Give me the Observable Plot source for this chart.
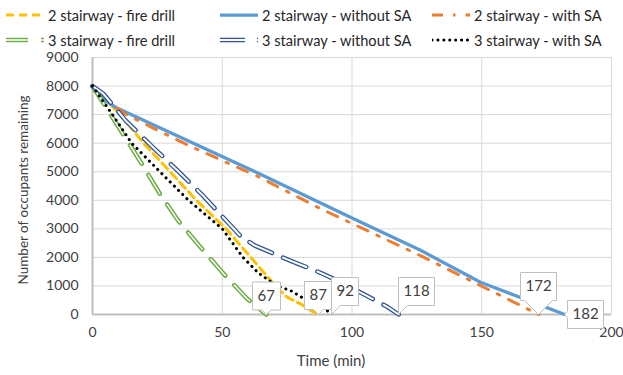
<!DOCTYPE html>
<html><head><meta charset="utf-8">
<script src="https://cdn.jsdelivr.net/npm/d3@7"></script>
<script src="https://cdn.jsdelivr.net/npm/@observablehq/plot@0.6"></script>
<style>
body{margin:0;background:#fff;font-family:Lato,sans-serif;}
#wrap{position:relative;width:623px;height:375px;overflow:hidden;}
#legend{position:relative;height:44px;width:623px;font-size:14.6px;color:#262626;}
.item{position:absolute;display:flex;align-items:center;height:18px;white-space:nowrap;}
.item svg{margin-right:4px;}
</style></head><body>
<div id="wrap"><div id="legend"></div><div id="chart"></div></div>
<script>
// ---- data ----
const seriesNames = ["2 stairway - fire drill", "2 stairway - without SA", "2 stairway - with SA",
                     "3 stairway - fire drill", "3 stairway - without SA", "3 stairway - with SA"];
const t2FireDrill = [0, 10.7, 19.7, 29.9, 40, 51.5, 61, 70.5, 75, 80.2, 84, 87];
const v2FireDrill = [8000, 7000, 6000, 5000, 4000, 3000, 2000, 1000, 606, 375, 150, 0];
const t2Without = [0, 4, 9, 62.7, 100, 126.4, 149.5, 182];
const v2Without = [8000, 7550, 7250, 5000, 3380, 2250, 1130, 0];
const t2With = [0, 6, 12, 24, 37, 50, 63, 88, 126.4, 167.5, 172];
const v2With = [8000, 7500, 7050, 6500, 5920, 5390, 4870, 3700, 2060, 200, 0];
const t3FireDrill = [0, 11.3, 19, 26, 33, 41.6, 50.6, 59.6, 67];
const v3FireDrill = [8000, 6384, 5275, 4220, 3290, 2360, 1420, 550, 0];
const t3Without = [0, 4.2, 12.8, 22.9, 32.9, 42.5, 52.1, 57, 62.4, 75, 87.9, 97, 113.6, 118];
const v3Without = [8000, 7730, 6790, 5890, 5030, 4170, 3230, 2750, 2420, 1930, 1460, 1075, 270, 0];
const t3With = [0, 7.7, 15.1, 26, 37, 50, 58, 64, 71, 76.3, 82.7, 90.4, 92];
const v3With = [8000, 7000, 6000, 5000, 4000, 3000, 2000, 1450, 1000, 840, 490, 140, 0];
const xTicks = [0, 50, 100, 150, 200];
const yTicks = [0, 1000, 2000, 3000, 4000, 5000, 6000, 7000, 8000, 9000];
const xTitle = "Time (min)";
const yTitle = "Number of occupants remaining";

const timesList = [t2FireDrill, t2Without, t2With, t3FireDrill, t3Without, t3With];
const valuesList = [v2FireDrill, v2Without, v2With, v3FireDrill, v3Without, v3With];
const series = seriesNames.map((name, i) => ({
  name, rows: timesList[i].map((t, j) => ({t, v: valuesList[i][j]}))
}));
const endPoint = i => { const r = series[i].rows; return r[r.length - 1]; };

// ---- styles ----
const styles = [
  [{stroke: "#FFC000", strokeWidth: 3, strokeDasharray: "8,5"}],
  [{stroke: "#5B9BD5", strokeWidth: 3.25}],
  [{stroke: "#ED7D31", strokeWidth: 3, strokeDasharray: "11,10,2.5,10"}],
  [{stroke: "#70AD47", strokeWidth: 4.5, strokeDasharray: "22,13"}, {stroke: "white", strokeWidth: 1.4, strokeDasharray: "22,13"}],
  [{stroke: "#2F5597", strokeWidth: 4.5, strokeDasharray: "25,12"}, {stroke: "white", strokeWidth: 2, strokeDasharray: "25,12"}],
  [{stroke: "black", strokeWidth: 3, strokeDasharray: "0.1,5.8", strokeLinecap: "round"}]
];

// ---- legend ----
const legend = document.getElementById("legend");
const legPos = [[6, 6], [220, 6], [432, 6], [6, 31], [220, 31], [432, 31]];
const swW = [38, 38, 38, 38, 38, 38];
seriesNames.forEach((name, i) => {
  const div = document.createElement("div");
  div.className = "item";
  div.style.left = legPos[i][0] + "px";
  div.style.top = legPos[i][1] + "px";
  const ns = "http://www.w3.org/2000/svg";
  const svg = document.createElementNS(ns, "svg");
  svg.setAttribute("width", swW[i]); svg.setAttribute("height", 10);
  styles[i].forEach(s => {
    const l = document.createElementNS(ns, "line");
    l.setAttribute("x1", 0); l.setAttribute("x2", swW[i]);
    l.setAttribute("y1", 5); l.setAttribute("y2", 5);
    l.setAttribute("stroke", s.stroke);
    l.setAttribute("stroke-width", s.strokeWidth);
    if (s.strokeDasharray) l.setAttribute("stroke-dasharray", s.strokeDasharray);
    if (s.strokeLinecap) l.setAttribute("stroke-linecap", s.strokeLinecap);
    svg.appendChild(l);
  });
  div.appendChild(svg);
  const span = document.createElement("span");
  span.textContent = name;
  div.appendChild(span);
  legend.appendChild(div);
});

// ---- lines ----
const lineMarks = [];
[0, 1, 2, 3, 4, 5].forEach(i => styles[i].forEach(s => lineMarks.push(
  Plot.line(series[i].rows, {x: "t", y: "v", strokeLinejoin: "round", ...s})
)));

// ---- callout labels ----
const callouts = [
  {i: 3, anchor: "bottom", pointerSize: 9},
  {i: 0, anchor: "bottom", pointerSize: 10},
  {i: 5, anchor: "bottom-left", pointerSize: 9},
  {i: 4, anchor: "bottom-left", pointerSize: 9},
  {i: 2, anchor: "bottom", pointerSize: 28},
  {i: 1, anchor: "left", pointerSize: 6}
];
const tipMarks = callouts.map(c => {
  const p = endPoint(c.i);
  return Plot.tip([{t: p.t, v: p.v, label: String(p.t)}], {
    x: "t", y: "v", title: "label", anchor: c.anchor, pointerSize: c.pointerSize,
    fill: "white", stroke: "#bfbfbf", strokeWidth: 1, pathFilter: "none",
    fontSize: 15, textPadding: 5, fontFamily: "Lato, sans-serif"
  });
});

const chart = Plot.plot({
  width: 623, height: 331,
  marginLeft: 92, marginRight: 12, marginTop: 13, marginBottom: 61,
  style: {fontFamily: "Lato, sans-serif", fontSize: "13px", color: "#404040", background: "white", overflow: "visible"},
  x: {domain: [0, 200]},
  y: {domain: [0, 9000]},
  marks: [
    Plot.gridX(xTicks.filter(d => d > 0), {stroke: "#d9d9d9", strokeOpacity: 1}),
    Plot.gridY(yTicks.filter(d => d > 0), {stroke: "#d9d9d9", strokeOpacity: 1}),
    Plot.ruleX([0], {stroke: "#bfbfbf", strokeWidth: 2}),
    Plot.ruleY([0], {stroke: "#bfbfbf", strokeWidth: 2}),
    Plot.axisX(xTicks, {tickSize: 0, tickPadding: 13, fontSize: 14, tickFormat: d3.format("d"), label: null}),
    Plot.axisY(yTicks, {tickSize: 0, tickPadding: 14, fontSize: 14, tickFormat: d3.format("d"), label: null}),
    Plot.text([xTitle], {frameAnchor: "bottom", text: d => d, dx: -21, dy: 47, fontSize: 15, textAnchor: "middle", lineAnchor: "middle", fill: "#404040"}),
    Plot.text([yTitle], {frameAnchor: "left", text: d => d, dx: -69, dy: 4, rotate: -90, fontSize: 13.5, textAnchor: "middle", lineAnchor: "middle", fill: "#404040"}),
    ...lineMarks,
    ...tipMarks
  ]
});
document.getElementById("chart").appendChild(chart);
</script></body></html>
